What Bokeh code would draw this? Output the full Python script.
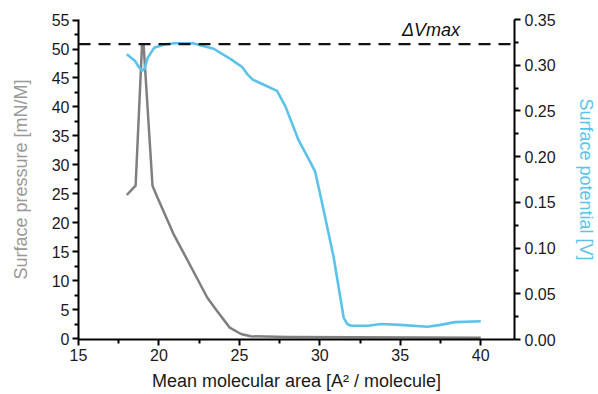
from bokeh.plotting import figure
from bokeh.models import Range1d, LinearAxis, FixedTicker, Span, Label, NumeralTickFormatter
from bokeh.embed import file_html
from bokeh.resources import INLINE

# ---- data ----
area_p = [18.0, 18.55, 18.95, 19.05, 19.6, 19.9, 20.9, 21.8, 23.0, 23.6, 24.4, 25.1, 25.7, 28.0, 32.0, 36.0, 40.0]
pressure = [24.8, 26.4, 50.8, 50.6, 26.4, 24.4, 18.1, 13.4, 7.1, 4.8, 1.9, 0.8, 0.4, 0.3, 0.25, 0.2, 0.15]

area_v = [18.0, 18.5, 18.75, 18.95, 19.1, 19.3, 19.7, 20.4, 21.0, 22.1, 23.4, 24.44, 25.17, 25.5, 25.85, 26.72,
          27.34, 27.86, 28.68, 29.5, 29.72, 30.24, 30.86, 31.48, 31.7, 31.95, 33.0, 33.8, 35.0, 36.7, 37.5, 38.4, 40.0]
potential = [0.312, 0.305, 0.298, 0.294, 0.296, 0.308, 0.319, 0.323, 0.324, 0.324, 0.318, 0.307, 0.298, 0.290, 0.284, 0.277,
             0.272, 0.255, 0.218, 0.191, 0.183, 0.141, 0.090, 0.024, 0.017, 0.015, 0.015, 0.017, 0.016, 0.014, 0.016, 0.019, 0.020]

dv_max = 0.323
dv_label = "ΔVmax"
dv_label_x = 35.1

x_ticks = [15, 20, 25, 30, 35, 40]
x_minor = [17.5, 22.5, 27.5, 32.5, 37.5]
y_ticks = [0, 5, 10, 15, 20, 25, 30, 35, 40, 45, 50, 55]
y_minor = [2.5, 7.5, 12.5, 17.5, 22.5, 27.5, 32.5, 37.5, 42.5, 47.5, 52.5]
v_ticks = [0.0, 0.05, 0.10, 0.15, 0.20, 0.25, 0.30, 0.35]
v_minor = [0.025, 0.075, 0.125, 0.175, 0.225, 0.275, 0.325]

GREY = "#7f7f7f"
GREY_LABEL = "#999999"
BLUE = "#5bc3ea"
FONT = "Liberation Sans"

p = figure(width=598, height=394, output_backend="svg", toolbar_location=None,
           x_range=Range1d(15, 42.1), y_range=Range1d(-0.15, 55.1),
           min_border_left=78, min_border_right=84, min_border_top=19, min_border_bottom=55)
p.extra_y_ranges = {"v": Range1d(0, 0.35)}
p.outline_line_color = None
p.xgrid.visible = False
p.ygrid.visible = False
p.background_fill_color = "white"
p.border_fill_color = "white"

def style_axis(ax, ticks, minor):
    ax.ticker = FixedTicker(ticks=ticks, minor_ticks=minor)
    ax.axis_line_width = 2
    ax.axis_line_color = "black"
    ax.major_tick_line_width = 2
    ax.minor_tick_line_width = 2
    ax.major_tick_line_color = "black"
    ax.minor_tick_line_color = "black"
    ax.major_tick_out = 6
    ax.major_tick_in = 0
    ax.minor_tick_out = 4
    ax.minor_tick_in = 0
    ax.major_label_text_font = FONT
    ax.major_label_text_font_size = "16px"
    ax.major_label_text_color = "#1a1a1a"
    ax.axis_label_text_font = FONT
    ax.axis_label_text_font_size = "18px"
    ax.axis_label_text_font_style = "normal"

xa = p.xaxis[0]
style_axis(xa, x_ticks, x_minor)
xa.axis_label = "Mean molecular area [A² / molecule]"
xa.axis_label_text_color = "#1a1a1a"
xa.major_label_standoff = 3
xa.axis_label_standoff = 7

ya = p.yaxis[0]
style_axis(ya, y_ticks, y_minor)
ya.axis_label = "Surface pressure [mN/M]"
ya.axis_label_text_color = GREY_LABEL
ya.major_label_standoff = 3
ya.axis_label_standoff = 18

ra = LinearAxis(y_range_name="v")
style_axis(ra, v_ticks, v_minor)
ra.formatter = NumeralTickFormatter(format="0.00")
ra.axis_label = "Surface potential [V]"
ra.axis_label_text_color = BLUE
ra.major_label_standoff = 4
ra.axis_label_standoff = 17
p.add_layout(ra, "right")

p.add_layout(Span(location=dv_max, dimension="width", y_range_name="v",
                  line_color="#111111", line_width=2.2, line_dash="12 8"))
p.add_layout(Label(x=dv_label_x, y=dv_max, y_range_name="v", text=dv_label, y_offset=4,
                   text_font=FONT, text_font_size="18px", text_font_style="italic",
                   text_color="#111111", text_baseline="bottom", text_align="left"))

p.line(area_p, pressure, line_color=GREY, line_width=2.5, line_join="round")
p.line(area_v, potential, y_range_name="v", line_color=BLUE, line_width=2.6, line_join="round")

open("out.html", "w").write(file_html(p, INLINE))
